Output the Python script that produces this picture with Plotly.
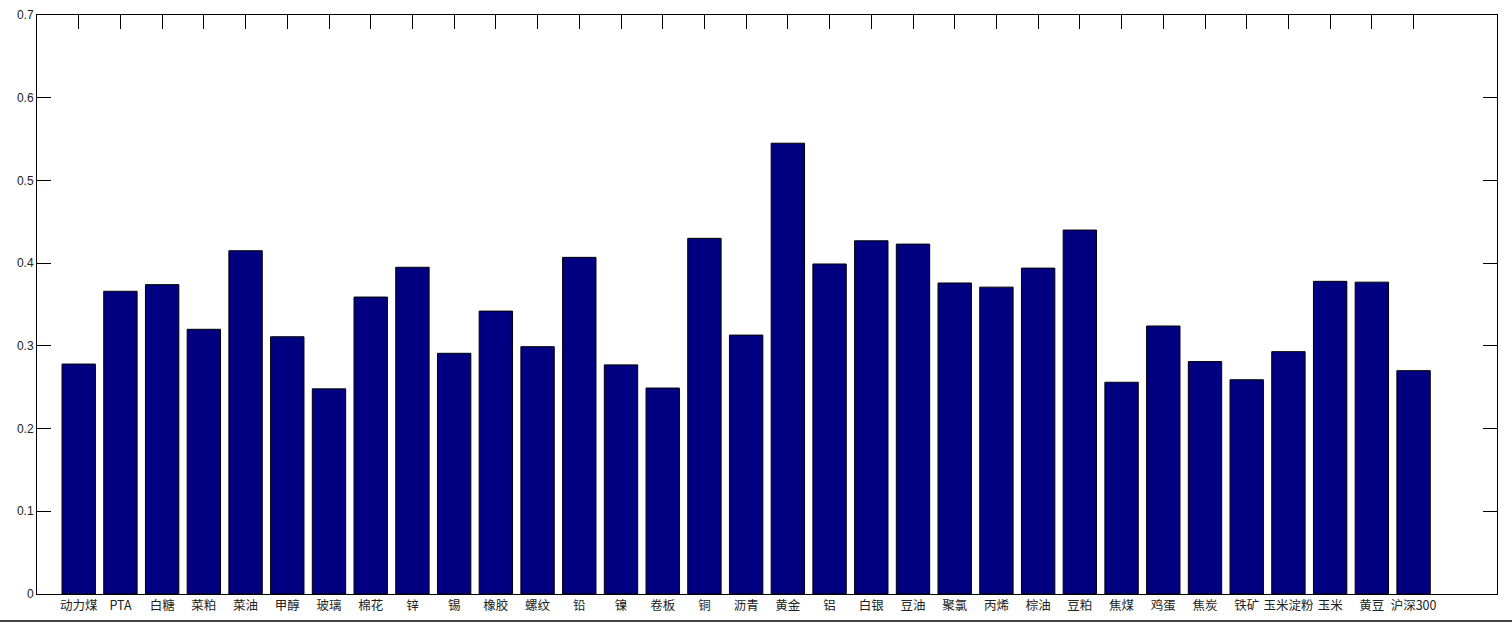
import plotly.graph_objects as go

categories = ["动力煤", "PTA", "白糖", "菜粕", "菜油", "甲醇", "玻璃", "棉花", "锌", "锡",
              "橡胶", "螺纹", "铅", "镍", "卷板", "铜", "沥青", "黄金", "铝", "白银",
              "豆油", "聚氯", "丙烯", "棕油", "豆粕", "焦煤", "鸡蛋", "焦炭", "铁矿", "玉米淀粉",
              "玉米", "黄豆", "沪深300"]
values = [0.278, 0.366, 0.374, 0.320, 0.415, 0.311, 0.248, 0.359, 0.395, 0.291,
          0.342, 0.299, 0.407, 0.277, 0.249, 0.430, 0.313, 0.545, 0.399, 0.427,
          0.423, 0.376, 0.371, 0.394, 0.440, 0.256, 0.324, 0.281, 0.259, 0.293,
          0.378, 0.377, 0.270]
y_ticks = [0, 0.1, 0.2, 0.3, 0.4, 0.5, 0.6, 0.7]
y_tick_text = ["0", "0.1", "0.2", "0.3", "0.4", "0.5", "0.6", "0.7"]

x_pos = list(range(1, len(categories) + 1))

fig = go.Figure(go.Bar(
    x=x_pos, y=values, width=0.8,
    marker=dict(color="#000080", line=dict(color="#000000", width=1)),
    hoverinfo="skip",
))

W, H = 1512, 624
L, R, T, B = 37, 15, 15, 30
pw = W - L - R
ph = H - T - B

fig.update_layout(
    width=W, height=H,
    margin=dict(l=L, r=R, t=T, b=B, pad=0, autoexpand=False),
    paper_bgcolor="white", plot_bgcolor="white",
    showlegend=False,
    font=dict(family="Noto Sans CJK SC, Arial, sans-serif", size=12, color="#222"),
    xaxis=dict(
        range=[0, 35], tickmode="array", tickvals=x_pos, ticktext=categories,
        ticks="inside", ticklen=14, tickcolor="#000", tickwidth=1,
        showline=True, linecolor="#000", linewidth=1, mirror="ticks",
        showgrid=False, zeroline=False, layer="below traces", automargin=False,
        tickangle=0, tickfont=dict(size=12.5, family="Noto Sans CJK SC, sans-serif"),
    ),
    yaxis=dict(
        range=[0, 0.7], tickmode="array", tickvals=y_ticks, ticktext=y_tick_text,
        ticks="inside", ticklen=14, tickcolor="#000", tickwidth=1,
        showline=True, linecolor="#000", linewidth=1, mirror="ticks",
        showgrid=False, zeroline=False, automargin=False,
        tickfont=dict(size=12, family="Arial, Liberation Sans, sans-serif"),
    ),
    shapes=[dict(type="line", xref="paper", yref="paper",
                 x0=-L / pw, x1=(W - L) / pw,
                 y0=-(621 - (H - B)) / ph, y1=-(621 - (H - B)) / ph,
                 line=dict(color="#444", width=2))],
)

fig.write_html(
    "out.html",
    config={"displayModeBar": False, "staticPlot": True},
    post_script="document.body.style.margin='0';document.body.style.overflow='hidden';",
)
